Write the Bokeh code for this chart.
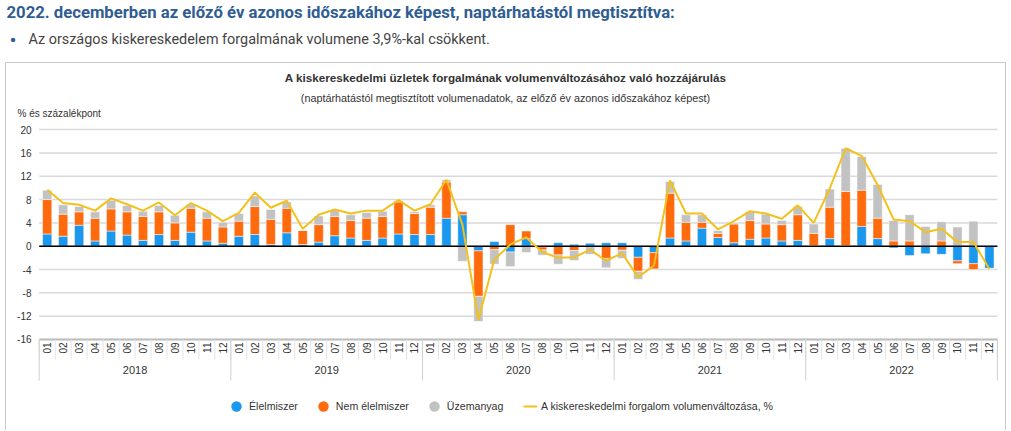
import numpy as np
from bokeh.plotting import figure
from bokeh.models import Range1d, Legend, LegendItem, ColumnDataSource, Label
from bokeh.core.properties import value
from bokeh.embed import file_html
from bokeh.resources import INLINE

# ---------------- data ----------------
years = ["2018", "2019", "2020", "2021", "2022"]
months = ["01", "02", "03", "04", "05", "06", "07", "08", "09", "10", "11", "12"]

elelmiszer = [2.1, 1.7, 3.6, 0.9, 2.6, 1.9, 1.0, 2.0, 1.0, 2.4, 0.9, 0.5,
              1.7, 2.0, 0.3, 2.3, 0.3, 0.7, 1.8, 1.4, 1.0, 1.4, 2.1, 2.0,
              2.0, 4.8, 5.4, -0.8, 0.8, -1.0, 1.3, -0.15, 0.6, 0.35, 0.5, 0.6,
              0.6, -1.9, -1.1, 1.4, 0.9, 3.1, 1.5, 0.6, 1.2, 1.4, 0.9, 1.0,
              0.1, 1.3, 0.1, 3.4, 1.3, -0.3, -1.6, -1.3, -1.4, -2.5, -3.0, -3.8]
nem_elelmiszer = [5.9, 3.8, 2.3, 3.9, 3.8, 4.0, 4.1, 3.9, 3.0, 4.1, 3.9, 2.8,
                  2.6, 4.8, 4.3, 4.2, 2.4, 3.0, 3.3, 3.0, 3.8, 3.7, 5.5, 3.6,
                  4.7, 6.2, 0.5, -7.8, -0.6, 3.7, 1.3, -0.5, -1.5, -0.75, -0.1, -2.1,
                  -0.7, -2.4, -2.8, 7.7, 3.2, 1.0, 0.7, 3.2, 3.2, 2.4, 2.8, 4.4,
                  2.1, 5.4, 9.3, 6.2, 3.5, 0.9, 0.9, 0.0, 0.9, -0.5, -1.0, -0.05]
uzemanyag = [1.6, 1.6, 0.9, 1.1, 1.5, 1.1, 0.9, 1.1, 1.3, 0.7, 1.1, 0.8,
             1.3, 1.8, 1.7, 1.1, 0.0, 1.5, 1.1, 1.0, 1.0, 0.9, 0.2, 0.3,
             0.4, 0.4, -2.6, -4.3, -2.5, -2.5, -1.1, -0.9, -1.6, -1.7, -1.3, -1.6,
             -1.4, -1.4, 0.0, 2.0, 1.3, 1.3, 0.5, 0.2, 1.5, 1.7, 0.7, 1.4,
             1.6, 3.1, 7.4, 5.8, 5.8, 3.5, 4.5, 3.4, 3.3, 3.3, 4.3, -0.1]
volumen = [9.7, 7.4, 7.1, 6.1, 8.2, 7.2, 6.1, 7.5, 5.3, 7.4, 6.1, 4.3,
           5.7, 9.2, 6.6, 7.8, 3.0, 5.4, 6.3, 5.6, 6.1, 6.1, 7.9, 6.1,
           7.2, 11.4, 3.7, -12.6, -2.3, 0.3, 1.5, -1.0, -2.0, -1.9, -0.6, -2.5,
           -1.2, -5.3, -3.3, 11.3, 5.6, 5.6, 2.9, 4.3, 6.0, 5.6, 4.7, 7.0,
           4.0, 9.9, 16.8, 15.5, 10.5, 4.6, 4.3, 2.4, 3.0, 0.7, 0.7, -3.9]

series_names = ["Élelmiszer", "Nem élelmiszer", "Üzemanyag"]
line_name = "A kiskereskedelmi forgalom volumenváltozása, %"
y_ticks = list(range(-16, 21, 4))
y_tick_labels = [str(t) for t in y_ticks]

header = "2022. decemberben az előző év azonos időszakához képest, naptárhatástól megtisztítva:"
bullet_text = "Az országos kiskereskedelem forgalmának volumene 3,9%-kal csökkent."
chart_title = "A kiskereskedelmi üzletek forgalmának volumenváltozásához való hozzájárulás"
chart_subtitle = "(naptárhatástól megtisztított volumenadatok, az előző év azonos időszakához képest)"
y_unit = "% és százalékpont"

colors = ["#1a98ee", "#ff6a0d", "#c2c2c2"]
line_color = "#f3c11c"
head_blue = "#2f5d92"

# ---------------- layout constants (page pixels) ----------------
W, H = 1010, 430
X0 = 38.7        # left edge of first category
CW = 15.97       # category width
Y0 = 245.7       # row of value 0
PPU = 5.83       # pixels per unit
n = len(volumen)

def dx(px):
    return (px - X0) / CW - 0.5

def dy(py):
    return (Y0 - py) / PPU

FONT = "Liberation Sans"

p = figure(width=W, height=H, x_range=Range1d(dx(0), dx(W)), y_range=Range1d(dy(H), dy(0)),
           output_backend="svg", toolbar_location=None, x_axis_location=None,
           y_axis_location=None, title=None, min_border=0)
p.outline_line_color = None
p.background_fill_color = "white"
p.border_fill_color = "white"
p.grid.visible = False

# ---------------- chart box ----------------
p.quad(left=[dx(5)], right=[dx(1005)], top=[dy(62)], bottom=[dy(445)],
       fill_color=None, line_color="#c9c9c9", line_width=1)

# ---------------- grid & y labels ----------------
nt = len(y_ticks)
p.segment(x0=np.full(nt, -0.5), y0=y_ticks, x1=np.full(nt, n - 0.5), y1=y_ticks,
          line_color="#d9d9d9", line_width=1.5)
p.text(x=np.full(nt, dx(31)), y=y_ticks, text=y_tick_labels, text_align="right",
       text_baseline="middle", text_font=value(FONT), text_font_size="10px",
       text_color="#333333")

# ---------------- stacked bars ----------------
x = np.arange(n)
pos = np.zeros(n)
neg = np.zeros(n)
for vals, col in zip([elelmiszer, nem_elelmiszer, uzemanyag], colors):
    v = np.array(vals, dtype=float)
    bottom = np.where(v >= 0, pos, neg)
    top = bottom + v
    pos = np.where(v >= 0, top, pos)
    neg = np.where(v < 0, top, neg)
    src = ColumnDataSource(dict(x=x, bottom=bottom, top=top))
    p.vbar(x="x", bottom="bottom", top="top", width=0.58, source=src,
           fill_color=col, line_color="white", line_width=0.5)

p.segment(x0=[-0.5], y0=[0], x1=[n - 0.5], y1=[0], line_color="#000000", line_width=1.5)
p.segment(x0=[-0.5], y0=[y_ticks[0]], x1=[n - 0.5], y1=[y_ticks[0]],
          line_color="#bdbdbd", line_width=2)

line_r = p.line(x, volumen, line_color=line_color, line_width=2)

# ---------------- category axis (months / years) ----------------
month_labels = months * len(years)
p.text(x=x, y=np.full(n, dy(342)), text=month_labels, angle=np.pi / 2,
       text_align="right", text_baseline="middle", text_font=value(FONT),
       text_font_size="10px", text_color="#333333")
bounds = np.arange(n + 1) - 0.5
p.segment(x0=bounds, y0=np.full(n + 1, y_ticks[0]), x1=bounds, y1=np.full(n + 1, dy(359)),
          line_color="#e3e3e3", line_width=1)
nm = len(months)
ybounds = np.arange(len(years) + 1) * nm - 0.5
p.segment(x0=ybounds, y0=np.full(len(ybounds), y_ticks[0]), x1=ybounds,
          y1=np.full(len(ybounds), dy(380)), line_color="#cfcfcf", line_width=1)
ycenters = np.arange(len(years)) * nm + (nm - 1) / 2
p.text(x=ycenters, y=np.full(len(years), dy(369)), text=years, text_align="center",
       text_baseline="middle", text_font=value(FONT), text_font_size="11px",
       text_color="#333333")

# ---------------- legends ----------------
dummies = [p.scatter(x=[np.nan], y=[np.nan], marker="circle", size=10, fill_color=c,
                     line_color=None) for c in colors]
items = [LegendItem(label=nm_, renderers=[r]) for nm_, r in zip(series_names, dummies)]
legend_style = dict(orientation="horizontal", padding=4, border_line_color=None,
                    background_fill_alpha=0, label_text_font=FONT,
                    label_text_font_size="10.6px", label_text_color="#333333",
                    glyph_height=26, label_height=26)
legend1 = Legend(items=items, location=(223, H - 419), glyph_width=26, label_standoff=0,
                 spacing=12, **legend_style)
legend2 = Legend(items=[LegendItem(label=line_name, renderers=[line_r])],
                 location=(523, H - 419), glyph_width=14, label_standoff=4,
                 **legend_style)
p.add_layout(legend1)
p.add_layout(legend2)

# ---------------- texts ----------------
p.add_layout(Label(x=dx(6), y=dy(12), text=header, text_font="Roboto",
                   text_font_size="16.7px", text_font_style="bold", text_color=head_blue,
                   text_baseline="alphabetic"))
p.add_layout(Label(x=dx(9), y=dy(39), text="•", text_font="Roboto",
                   text_font_size="21px", text_color=head_blue, text_baseline="middle"))
p.add_layout(Label(x=dx(28), y=dy(39), text=bullet_text, text_font="Roboto",
                   text_font_size="14.4px", text_color="#444444", text_baseline="middle"))
p.add_layout(Label(x=dx(505), y=dy(77), text=chart_title, text_font=FONT,
                   text_font_size="11.7px", text_font_style="bold", text_color="#333333",
                   text_align="center", text_baseline="middle"))
p.add_layout(Label(x=dx(505), y=dy(97), text=chart_subtitle, text_font=FONT,
                   text_font_size="10.8px", text_color="#333333",
                   text_align="center", text_baseline="middle"))
p.add_layout(Label(x=dx(17), y=dy(113), text=y_unit, text_font=FONT,
                   text_font_size="10px", text_color="#333333",
                   text_align="left", text_baseline="middle"))

open("out.html", "w").write(file_html(p, INLINE))
